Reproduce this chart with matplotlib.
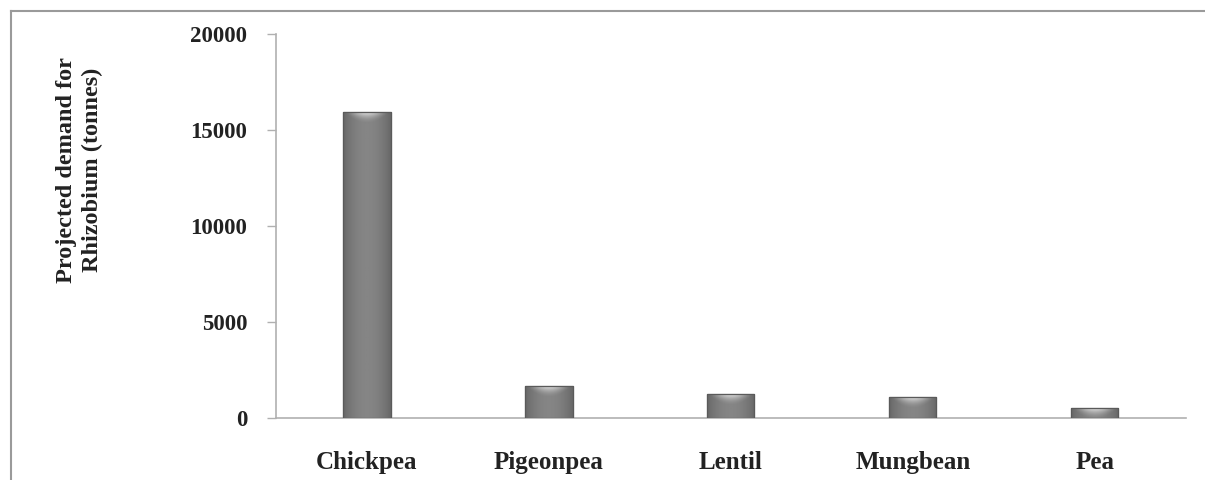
import numpy as np
import matplotlib
matplotlib.use("Agg")
import matplotlib.pyplot as plt
from matplotlib.lines import Line2D
from matplotlib.colors import LinearSegmentedColormap

crops = ["Chickpea", "Pigeonpea", "Lentil", "Mungbean", "Pea"]
demand = [15950, 1670, 1250, 1100, 520]
yticks = [0, 5000, 10000, 15000, 20000]

plt.rcParams["font.family"] = ["Liberation Serif", "DejaVu Serif"]
plt.rcParams["font.weight"] = "bold"

fig = plt.figure(figsize=(12.05, 4.8), dpi=100)
ax = fig.add_axes([0.229, 0.129, 0.755, 0.8])

x = np.arange(len(crops))
bars = ax.bar(x, demand, width=0.26, color="#6f6f6f", edgecolor="#555555",
              linewidth=0.8, zorder=2)

# shaded body for each bar: darker edges, lighter middle
grad = np.linspace(0, 1, 64)
shade = 1 - 0.55 * (np.abs(grad - 0.5) * 2) ** 2
body_cmap = LinearSegmentedColormap.from_list("body", ["#505050", "#858585"])
cap_cmap = LinearSegmentedColormap.from_list(
    "cap", [(0.55, 0.55, 0.55, 0.0), (0.9, 0.9, 0.9, 0.95)])
for b in bars:
    x0, w, h = b.get_x(), b.get_width(), b.get_height()
    im = ax.imshow(shade[np.newaxis, :], cmap=body_cmap, aspect="auto",
                   extent=[x0, x0 + w, 0, h], zorder=3, vmin=0, vmax=1)
    im.set_clip_path(b)
    # bevelled cap at the top of the bar
    cap = min(h, 520)
    yy = np.linspace(0, 1, 32)[:, None]
    xx = np.linspace(-1, 1, 64)[None, :]
    glow = np.clip(1 - (xx ** 2) * 1.1 - yy * 0.85, 0, 1)
    im2 = ax.imshow(glow, cmap=cap_cmap, aspect="auto", origin="upper",
                    extent=[x0, x0 + w, h - cap, h], zorder=4, vmin=0, vmax=1)
    im2.set_clip_path(b)
    ax.add_patch(plt.Rectangle((x0, 0), w, h, fill=False,
                               edgecolor="#5a5a5a", linewidth=0.9, zorder=5))

ax.set_xlim(-0.5, len(crops) - 0.5)
ax.set_ylim(0, 20000)
ax.set_yticks(yticks)
ax.set_yticklabels([str(t) for t in yticks])
ax.set_xticks(x)
ax.set_xticklabels(crops)

for s in ["top", "right"]:
    ax.spines[s].set_visible(False)
for s in ["left", "bottom"]:
    ax.spines[s].set_color("#b0b0b0")
    ax.spines[s].set_linewidth(1.2)

ax.tick_params(axis="y", direction="out", length=6.5, width=1.0,
               color="#b0b0b0", pad=14, labelsize=16.5, labelcolor="#222222")
ax.tick_params(axis="x", length=0, pad=24, labelsize=18, labelcolor="#222222")
for lbl in ax.get_xticklabels() + ax.get_yticklabels():
    lbl.set_fontweight("bold")

fig.text(0.066, 0.646, "Projected demand for\nRhizobium (tonnes)",
         rotation=90, ha="center", va="center", fontsize=17.5,
         fontweight="bold", color="#222222", linespacing=1.3)

# outer frame lines
fig.add_artist(Line2D([11 / 1205, 11 / 1205], [0, 1 - 11 / 480],
                      transform=fig.transFigure, color="#9a9a9a", linewidth=1.5))
fig.add_artist(Line2D([11 / 1205, 1], [1 - 11 / 480, 1 - 11 / 480],
                      transform=fig.transFigure, color="#9a9a9a", linewidth=1.5))

fig.savefig("out.png", dpi=100)
